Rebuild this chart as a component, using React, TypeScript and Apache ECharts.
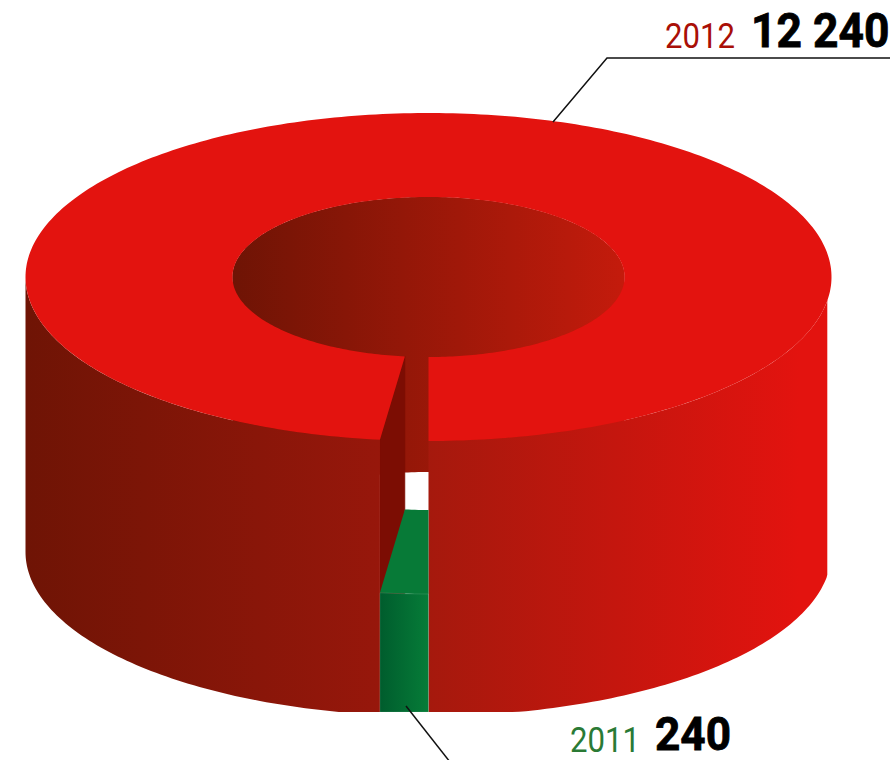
import React, { useEffect, useRef } from "react";
import * as echarts from "echarts";

const years = ["2011", "2012"];
const values = [240, 12240];
const valueLabels = ["240", "12 240"];
const standHeights = [122, 275];

const CX = 428.5;
const CY = 277;
const RX = 403;
const RY = 164;
const IRX = 196;
const IRY = 80;
const WALL = 275;
const MAX_X = 827.3;
const MAX_Y = 712;

const pt = (t: number, rx: number, ry: number, off = 0, clip = true) => {
  const x = CX - rx * Math.sin(t);
  const y = CY + ry * Math.cos(t) + off;
  return clip ? [Math.min(x, MAX_X), Math.min(y, MAX_Y)] : [x, y];
};

const arc = (a: number, b: number, rx: number, ry: number, off = 0, clip = true) => {
  const n = Math.max(2, Math.ceil((Math.abs(b - a) / (2 * Math.PI)) * 360));
  const out: number[][] = [];
  for (let i = 0; i <= n; i++) out.push(pt(a + ((b - a) * i) / n, rx, ry, off, clip));
  return out;
};

const grad = (x1: number, x2: number, stops: [number, string][]) =>
  new echarts.graphic.LinearGradient(
    x1, 0, x2, 0,
    stops.map(([offset, color]) => ({ offset, color })),
    true
  );

const poly = (points: number[][], fill: any, extra: any = {}) => ({
  type: "polygon",
  shape: { points },
  style: { fill, ...extra },
});

export default function App() {
  const ref = useRef<HTMLDivElement>(null);

  useEffect(() => {
    const chart = echarts.init(ref.current!, null, { renderer: "svg" });
    const total = values.reduce((a, b) => a + b, 0);
    const sweep = (values[0] / total) * 2 * Math.PI;
    const PI = Math.PI;

    const renderItem = (params: any) => {
      if (params.dataIndex === 1) {
        const holeFill = grad(234, 625, [[0, "#6f1405"], [1, "#c41b0c"]]);
        return {
          type: "group",
          children: [
            poly([...arc(PI / 2, 1.5 * PI, IRX, IRY), ...arc(1.5 * PI, PI / 2, IRX, IRY, WALL)], holeFill),
            poly(arc(0, 2 * PI, IRX, IRY), holeFill),
            poly(
              [pt(sweep, IRX, IRY), pt(sweep, RX, RY), pt(sweep, RX, RY, WALL), pt(sweep, IRX, IRY, WALL)],
              "#7c0d03",
              { stroke: "#7c0d03", lineWidth: 0.6 }
            ),
            poly(
              [...arc(sweep, PI / 2, RX, RY), ...arc(PI / 2, sweep, RX, RY, WALL)],
              grad(26, 379, [[0, "#6f1405"], [1, "#97170b"]])
            ),
            poly(
              [...arc(1.5 * PI, 2 * PI, RX, RY), ...arc(2 * PI, 1.5 * PI, RX, RY, WALL)],
              grad(428, 800, [[0, "#a5190d"], [1, "#e3130f"]])
            ),
            poly([...arc(sweep, 2 * PI, RX, RY, 0, false), ...arc(2 * PI, sweep, IRX, IRY, 0, false)], "#e3130f"),
          ],
        };
      }
      const off = WALL - standHeights[0];
      return {
        type: "group",
        children: [
          poly([...arc(0, sweep, RX, RY, off), ...arc(sweep, 0, IRX, IRY, off)], "#077a37"),
          poly(
            [...arc(0, sweep, RX, RY, off), ...arc(sweep, 0, RX, RY, WALL)],
            grad(379, 428, [[0, "#005c2d"], [1, "#067c38"]]),
            { stroke: "rgba(255,255,255,0.2)", lineWidth: 0.6 }
          ),
        ],
      };
    };

    const thin = "400 35px Roboto";
    const heavy = { stroke: "#000000", lineWidth: 0.8 };

    chart.setOption({
      animation: false,
      backgroundColor: "#ffffff",
      series: [
        {
          type: "custom",
          coordinateSystem: "none",
          silent: true,
          data: [values[1], values[0]].map((v, i) => [v, i]),
          renderItem: (p: any) => renderItem({ dataIndex: p.dataIndex === 0 ? 1 : 0 }),
        },
      ],
      graphic: [
        {
          type: "polyline",
          shape: { points: [[553, 122], [607, 58], [890, 58]] },
          style: { stroke: "#111111", lineWidth: 1.5, fill: "none" },
          z: 10,
        },
        {
          type: "line",
          shape: { x1: 406, y1: 706, x2: 450, y2: 762 },
          style: { stroke: "#111111", lineWidth: 1.5 },
          z: 10,
        },
        {
          type: "text", x: 665, y: 36, scaleX: 0.89, z: 10,
          style: { text: years[1], font: thin, fill: "#a90f07", verticalAlign: "middle" },
        },
        {
          type: "text", x: 751, y: 30, scaleX: 0.925, z: 10,
          style: { text: valueLabels[1], font: "bold 48px Roboto", fill: "#000000", verticalAlign: "middle", ...heavy },
        },
        {
          type: "text", x: 570, y: 740, scaleX: 0.89, z: 10,
          style: { text: years[0], font: thin, fill: "#2a7a35", verticalAlign: "middle" },
        },
        {
          type: "text", x: 655, y: 734, scaleX: 0.96, z: 10,
          style: { text: valueLabels[0], font: "bold 46px Roboto", fill: "#000000", verticalAlign: "middle", ...heavy },
        },
      ],
    });
    return () => chart.dispose();
  }, []);

  return (
    <div
      ref={ref}
      style={{ position: "absolute", left: 0, top: 0, width: 890, height: 760 }}
    />
  );
}
